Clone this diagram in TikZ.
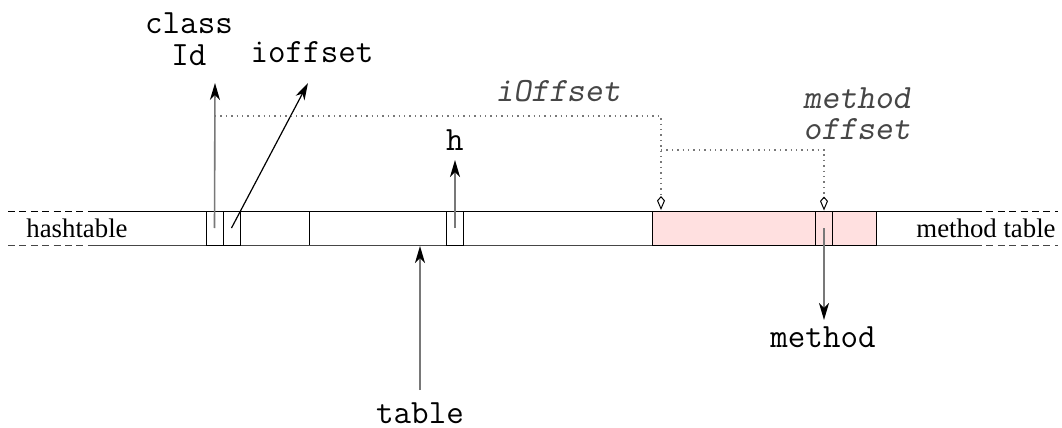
\documentclass[tikz,border=0pt]{standalone}
\usepackage{fontspec}
\setmainfont{Liberation Serif}
\usepackage{xcolor}
\definecolor{lgray}{RGB}{120,120,120}
\definecolor{dgray}{RGB}{70,70,70}
\definecolor{lpink}{RGB}{255,224,224}
\usetikzlibrary{positioning, calc, arrows.meta}
\tikzstyle{Arrow} = [
line width=0.6pt,
-{Stealth[length=8.5pt,width=5pt,inset=2.5pt]}]
\tikzstyle{ArrowGray} = [
line width=0.8pt,
lgray,
-{Stealth[black,length=8.5pt,width=5pt,inset=2.5pt]}]
\tikzstyle{Offset} = [
line width=0.7pt,
lgray,
dash pattern=on 0.7pt off 2pt,
-{Kite[open,black,line width=0.5pt,length=7pt,width=4pt,inset=2.3pt]}]
\tikzstyle{cell} = [draw, line width=0.5pt, minimum width=8.5pt, minimum height=17pt, inner sep=0pt]
\tikzstyle{tt} = [font=\fontsize{17}{16}\selectfont\ttfamily, inner sep=0pt]
\tikzstyle{ttit} = [font=\fontsize{17}{15.5}\selectfont\ttfamily\slshape, text=dgray, inner sep=0pt]
\tikzstyle{rm} = [font=\fontsize{13.4}{15}\selectfont, inner sep=0pt]
\tikzstyle{edge} = [dash pattern=on 3.5pt off 2.2pt, line width=0.5pt]

\begin{document}
\begin{tikzpicture}[x=0.5pt, y=-0.5pt]
    \useasboundingbox (0,0) rectangle (1062,428);

    % the table band
    \draw[edge] (8,211) -- (92,211);
    \draw[edge, dgray] (8,245) -- (92,245);
    \draw[edge] (975,211) -- (1058,211);
    \draw[edge, dgray] (975,245) -- (1058,245);
    \draw[line width=0.5pt] (92,211) -- (975,211);
    \draw[line width=0.5pt, dgray] (92,245) -- (975,245);
    \node[rm] (hash) at (77,228) {hashtable};
    \node[rm] (mtab) at (986,228) {method table};

    % cells
    \node[cell] (1) at (214.5,228) {};
    \node[cell] (2) at (231.5,228) {};
    \draw[line width=0.5pt] (309,211) -- (309,245);
    \node[cell] (3) at (455,228) {};
    \draw[line width=0.5pt, fill=lpink] (652,211) rectangle (876,245);
    \node[cell] (4) at (824,228) {};

    % labels
    \node[tt, align=center] (classid) at (189,39) {class\\Id};
    \node[tt] (ioff) at (312,52) {ioffset};
    \node[tt] (h) at (455,140) {h};
    \node[tt] (table) at (420,413) {table};
    \node[tt] (method) at (823,337) {method};
    \node[ttit] (iOff) at (558,91) {iOffset};
    \node[ttit, align=center] (moff) at (857,114) {method\\offset};

    \coordinate (1t) at (215,83);
    \coordinate (2t) at (308,83);
    \coordinate (3t) at (455,160);
    \coordinate (tb) at (420,390);
    \coordinate (4b) at (824,320);

    \draw[ArrowGray] (1.center) -- (1t);
    \draw[Arrow] (2.center) -- (2t);
    \draw[ArrowGray] (3.center) -- (3t);
    \draw[ArrowGray] (tb) -- (420,246);
    \draw[ArrowGray] (4.center) -- (4b);

    \draw[Offset] (215,116) -| (661,210);
    \draw[Offset] (661,150) -| (4.north);
\end{tikzpicture}
\end{document}
